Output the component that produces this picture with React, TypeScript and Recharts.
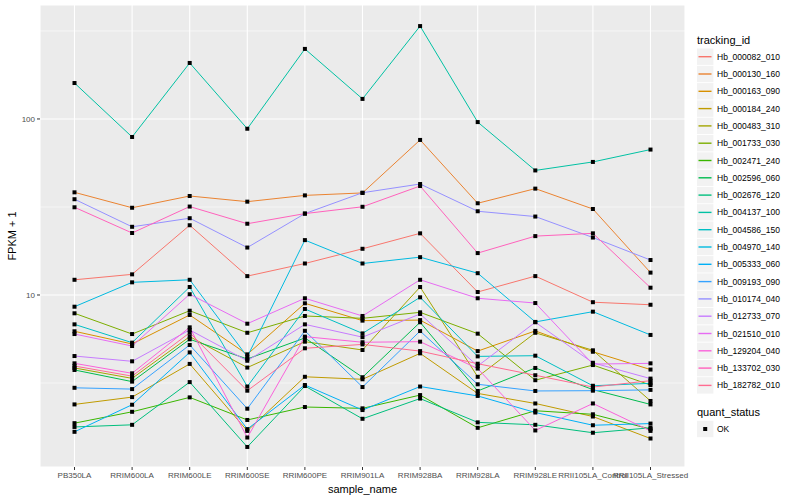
import React from 'react';
import { LineChart, Line, XAxis, YAxis, CartesianGrid } from 'recharts';

const FONT = '"Liberation Sans", Arial, Helvetica, sans-serif';

const SAMPLES = [
  'PB350LA', 'RRIM600LA', 'RRIM600LE', 'RRIM600SE', 'RRIM600PE', 'RRIM901LA',
  'RRIM928BA', 'RRIM928LA', 'RRIM928LE', 'RRII105LA_Control', 'RRII105LA_Stressed',
];

// FPKM + 1 per sample
const HB_000082_010 = [12.2, 13.1, 24.9, 12.8, 15.1, 18.3, 22.4, 10.4, 12.8, 9.1, 8.8];
const HB_000130_160 = [38.3, 31.3, 36.5, 33.9, 36.8, 38.0, 76, 33.2, 40.2, 30.8, 13.4];
const HB_000163_090 = [6.22, 5.27, 7.7, 4.6, 8.97, 7.15, 7.2, 4.8, 6.25, 4.76, 3.77];
const HB_000184_240 = [2.39, 2.63, 4.06, 1.69, 3.43, 3.32, 4.66, 2.76, 2.42, 2.04, 1.53];
const HB_000483_310 = [3.85, 3.36, 5.8, 3.87, 5.43, 4.87, 11.1, 3.43, 6.1, 4.85, 2.5];
const HB_001733_030 = [7.87, 6.0, 8.14, 6.1, 7.6, 7.37, 7.97, 6.03, 3.28, 4.0, 3.08];
const HB_002471_240 = [1.87, 2.17, 2.62, 1.95, 2.31, 2.27, 2.7, 1.76, 2.2, 2.1, 1.73];
const HB_002596_060 = [3.75, 3.22, 5.6, 4.33, 5.7, 3.41, 7.0, 2.85, 3.85, 2.9, 2.39];
const HB_002676_120 = [1.78, 1.83, 3.2, 1.37, 3.04, 1.98, 2.58, 1.89, 1.83, 1.65, 1.76];
const HB_004137_100 = [160, 79, 208, 88, 250, 130, 337, 96, 51, 57, 67];
const HB_004586_150 = [6.81, 5.36, 11.1, 3.02, 8.33, 6.05, 9.7, 4.48, 4.52, 3.05, 3.15];
const HB_004970_140 = [8.58, 11.8, 12.2, 4.46, 20.5, 15.1, 16.4, 13.3, 7.03, 8.04, 5.93];
const HB_005333_060 = [1.67, 2.38, 4.72, 1.73, 3.08, 2.22, 3.02, 2.67, 2.15, 1.82, 1.86];
const HB_009193_090 = [2.97, 2.92, 5.2, 2.26, 6.26, 3.0, 6.24, 3.11, 2.85, 2.86, 2.89];
const HB_010174_040 = [35.0, 24.4, 27.3, 18.6, 29.0, 38.1, 42.7, 29.9, 27.9, 21.2, 15.8];
const HB_012733_070 = [4.5, 4.2, 6.33, 4.23, 6.81, 5.76, 7.8, 3.95, 7.0, 4.12, 3.35];
const HB_021510_010 = [6.0, 5.13, 10.1, 6.87, 9.58, 7.6, 12.2, 9.58, 9.0, 4.05, 4.09];
const HB_129204_040 = [4.09, 3.59, 6.55, 1.55, 5.8, 5.39, 5.43, 3.82, 1.7, 2.42, 1.69];
const HB_133702_030 = [31.5, 22.5, 31.8, 25.4, 29.0, 31.7, 41.6, 17.3, 21.6, 22.4, 11.0];
const HB_182782_010 = [3.95, 3.46, 6.1, 2.86, 4.98, 5.24, 4.8, 4.07, 3.5, 3.0, 3.26];

const TRACKING_IDS = [
  'Hb_000082_010', 'Hb_000130_160', 'Hb_000163_090', 'Hb_000184_240', 'Hb_000483_310',
  'Hb_001733_030', 'Hb_002471_240', 'Hb_002596_060', 'Hb_002676_120', 'Hb_004137_100',
  'Hb_004586_150', 'Hb_004970_140', 'Hb_005333_060', 'Hb_009193_090', 'Hb_010174_040',
  'Hb_012733_070', 'Hb_021510_010', 'Hb_129204_040', 'Hb_133702_030', 'Hb_182782_010',
];

const SERIES_VALUES = [
  HB_000082_010, HB_000130_160, HB_000163_090, HB_000184_240, HB_000483_310,
  HB_001733_030, HB_002471_240, HB_002596_060, HB_002676_120, HB_004137_100,
  HB_004586_150, HB_004970_140, HB_005333_060, HB_009193_090, HB_010174_040,
  HB_012733_070, HB_021510_010, HB_129204_040, HB_133702_030, HB_182782_010,
];

// ggplot2 default hue palette for 20 levels
const COLORS = [
  '#F8766D', '#EA8331', '#D89000', '#C09B00', '#A3A500', '#7CAE00', '#39B600',
  '#00BB4E', '#00BF7D', '#00C1A3', '#00BFC4', '#00BAE0', '#00B0F6', '#35A2FF',
  '#9590FF', '#C77CFF', '#E76BF3', '#FA62DB', '#FF62BC', '#FF6C91',
];

const Y_TICKS = [10, 100];
const Y_MINOR = [3.162, 31.62, 316.2];

const data = SAMPLES.map((sample, i) => {
  const row: Record<string, string | number> = { sample };
  TRACKING_IDS.forEach((id, k) => {
    row[id] = SERIES_VALUES[k][i];
  });
  return row;
});

const SquareDot = (props: any) => {
  const { cx, cy } = props;
  if (cx == null || cy == null) return null;
  return <rect x={cx - 2} y={cy - 2} width={4} height={4} fill="#000" />;
};

const XTitle = (props: any) => {
  const { viewBox } = props;
  return (
    <text x={viewBox.x + viewBox.width / 2} y={viewBox.y + 22} textAnchor="middle"
      dominantBaseline="central" fontSize={11} fill="#000" fontFamily={FONT}>
      sample_name
    </text>
  );
};

const YTitle = (props: any) => {
  const { viewBox } = props;
  const cy = viewBox.y + viewBox.height / 2;
  return (
    <text x={12} y={cy} transform={`rotate(-90 12 ${cy})`} textAnchor="middle"
      dominantBaseline="central" fontSize={11} fill="#000" fontFamily={FONT}>
      FPKM + 1
    </text>
  );
};

function GgLegend() {
  const step = 17.3;
  const first = 56.7;
  return (
    <svg width={110} height={500} style={{ position: 'absolute', left: 690, top: 0 }}
      fontFamily={FONT}>
      <text x={7} y={40} fontSize={11} dominantBaseline="central" fill="#000">tracking_id</text>
      {TRACKING_IDS.map((id, i) => {
        const c = first + i * step;
        return (
          <g key={id}>
            <rect x={7} y={c - 8.2} width={16.4} height={16.4} fill="#F2F2F2" />
            <line x1={8.5} x2={21.5} y1={c} y2={c} stroke={COLORS[i]} strokeWidth={1.4} />
            <text x={27} y={c} fontSize={8.5} dominantBaseline="central" fill="#000">{id}</text>
          </g>
        );
      })}
      <text x={7} y={412} fontSize={11} dominantBaseline="central" fill="#000">quant_status</text>
      <rect x={7} y={420.8} width={16.4} height={16.4} fill="#F2F2F2" />
      <rect x={13.2} y={427} width={4} height={4} fill="#000" />
      <text x={27} y={429} fontSize={8.5} dominantBaseline="central" fill="#000">OK</text>
    </svg>
  );
}

export default function App() {
  return (
    <div style={{ position: 'absolute', left: 0, top: 0, width: 800, height: 500, background: '#fff' }}>
      <LineChart width={800} height={500} data={data}
        margin={{ top: 5, right: 115, bottom: 0, left: 0 }}>
        <CartesianGrid fill="#EBEBEB" stroke="#FFFFFF" strokeWidth={1.1} />
        <CartesianGrid fill="none" stroke="#FFFFFF" strokeWidth={0.55} vertical={false}
          horizontalValues={Y_MINOR} />
        <XAxis dataKey="sample" interval={0} padding={{ left: 34.5, right: 34.5 }}
          height={33} axisLine={false} tickSize={3} tickLine={{ stroke: '#333333' }}
          tick={{ fontSize: 8, fill: '#4D4D4D', fontFamily: FONT }}
          label={<XTitle />} />
        <YAxis type="number" scale="log" domain={[1.054, 444]} allowDataOverflow
          ticks={Y_TICKS} width={40} axisLine={false} tickSize={3}
          tickLine={{ stroke: '#333333' }}
          tick={{ fontSize: 8, fill: '#4D4D4D', fontFamily: FONT }}
          label={<YTitle />} />
        {TRACKING_IDS.map((id, k) => (
          <Line key={id} dataKey={id} type="linear" stroke={COLORS[k]} strokeWidth={1}
            isAnimationActive={false}
            dot={(p: any) => <SquareDot key={`${id}-${p.index}`} {...p} />}
            activeDot={false} />
        ))}
      </LineChart>
      <GgLegend />
    </div>
  );
}
